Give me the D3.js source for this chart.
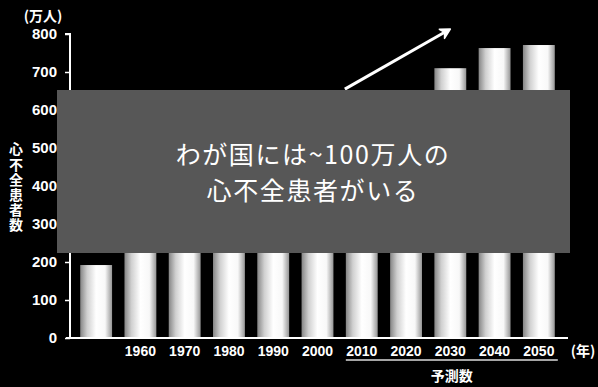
<!DOCTYPE html>
<html><head><meta charset="utf-8">
<script src="https://cdn.jsdelivr.net/npm/d3@7"></script>
<style>
html,body{margin:0;padding:0;background:#000;}
svg{display:block;}
</style></head>
<body>
<svg id="chart" width="598" height="387"></svg>
<script>
// ---- data ----
const categories = ["1950","1960","1970","1980","1990","2000","2010","2020","2030","2040","2050"];
const tickLabels = ["","1960","1970","1980","1990","2000","2010","2020","2030","2040","2050"];
const values = [192, 250, 300, 360, 420, 500, 580, 640, 710, 763, 771];
const yTicks = [0,100,200,300,400,500,600,700,800];
const forecastCats = ["2010","2050"];
const arrowFrom = {cat:"2010", value:655};
const arrowTo = {cat:"2030", value:813};
const yUnit = "(万人)";
const xUnit = "(年)";
const yTitle = "心不全患者数";
const forecastLabel = "予測数";
const boxLines = ["わが国には~100万人の","心不全患者がいる"];

const svg = d3.select("#chart");
svg.append("rect").attr("width",598).attr("height",387).attr("fill","#000");

const x = d3.scaleBand().domain(categories).range([74,561]).paddingInner(0.28).paddingOuter(0.14);
const y = d3.scaleLinear().domain([0,800]).range([338,34]);

const defs = svg.append("defs");
const g = defs.append("linearGradient").attr("id","cyl").attr("x1","0").attr("x2","1").attr("y1","0").attr("y2","0");
[[0,"#858585"],[0.22,"#d0d0d0"],[0.5,"#ffffff"],[0.78,"#f8f8f8"],[1,"#959595"]].forEach(([o,c])=>
  g.append("stop").attr("offset",o).attr("stop-color",c));

// bars
svg.append("g").selectAll("rect").data(categories).join("rect")
  .attr("x",d=>x(d)).attr("width",x.bandwidth())
  .attr("y",(d,i)=>y(values[i])).attr("height",(d,i)=>y(0)-y(values[i]))
  .attr("fill","url(#cyl)");

const latin = "'Liberation Sans', Arial, 'Noto Sans CJK JP', sans-serif";
const cjk = "'Noto Sans CJK JP', sans-serif";

// y axis
const yAxis = d3.axisLeft(y).tickValues(yTicks).tickSize(5).tickPadding(6);
const ya = svg.append("g").attr("transform","translate(70,0)").call(yAxis);
ya.select(".domain").attr("stroke","#fff").attr("stroke-width",2).attr("d","M-5,"+y(800)+"H0V"+y(0));
ya.selectAll(".tick line").attr("stroke","#fff").attr("stroke-width",1.5);
ya.selectAll(".tick text").attr("fill","#fff").attr("font-family",latin).attr("font-weight","bold").attr("font-size",15).attr("dx",-2);

// x axis
const xAxis = d3.axisBottom(x).tickFormat((d,i)=>tickLabels[i]).tickSize(0).tickPadding(8);
const xa = svg.append("g").attr("transform","translate(0,338)").call(xAxis);
xa.select(".domain").remove();
xa.selectAll(".tick text").attr("fill","#fff").attr("font-family",latin).attr("font-weight","bold").attr("font-size",14);
svg.append("line").attr("x1",66).attr("x2",568).attr("y1",y(0)).attr("y2",y(0)).attr("stroke","#fff").attr("stroke-width",2);

// units
svg.append("text").attr("x",43).attr("y",21).attr("text-anchor","middle").attr("fill","#fff")
  .attr("font-family",cjk).attr("font-weight","bold").attr("font-size",14).text(yUnit);
svg.append("text").attr("x",583).attr("y",356).attr("text-anchor","middle").attr("fill","#fff")
  .attr("font-family",cjk).attr("font-weight","bold").attr("font-size",14).text(xUnit);

// y title vertical
svg.append("text").attr("x",16).attr("y",142).attr("fill","#fff").attr("font-family",cjk)
  .attr("font-weight","bold").attr("font-size",14).attr("letter-spacing",1.2)
  .style("writing-mode","vertical-rl").style("text-orientation","upright").text(yTitle);

// forecast line & label
const fx1 = x(forecastCats[0]), fx2 = x(forecastCats[1])+x.bandwidth()+3;
svg.append("line").attr("x1",fx1).attr("x2",fx2).attr("y1",360).attr("y2",360).attr("stroke","#ddd").attr("stroke-width",1.5);
svg.append("text").attr("x",(fx1+fx2)/2).attr("y",381).attr("text-anchor","middle").attr("fill","#fff")
  .attr("font-family",cjk).attr("font-weight","bold").attr("font-size",14).text(forecastLabel);

// arrow
const ax1 = x(arrowFrom.cat)-1, ay1 = y(arrowFrom.value);
const ax2 = x(arrowTo.cat)+x.bandwidth()/2, ay2 = y(arrowTo.value);
const ang = Math.atan2(ay2-ay1, ax2-ax1);
svg.append("line").attr("x1",ax1).attr("y1",ay1).attr("x2",ax2-4*Math.cos(ang)).attr("y2",ay2-4*Math.sin(ang))
  .attr("stroke","#fff").attr("stroke-width",3);
const hl = 11, hw = 0.5;
svg.append("path").attr("d",
  "M"+ax2+","+ay2+
  "L"+(ax2-hl*Math.cos(ang-hw))+","+(ay2-hl*Math.sin(ang-hw))+
  "L"+(ax2-hl*0.6*Math.cos(ang))+","+(ay2-hl*0.6*Math.sin(ang))+
  "L"+(ax2-hl*Math.cos(ang+hw))+","+(ay2-hl*Math.sin(ang+hw))+"Z")
  .attr("fill","#fff").attr("stroke","#fff").attr("stroke-width",1.5).attr("stroke-linejoin","round");

// overlay box
svg.append("rect").attr("x",57).attr("y",90).attr("width",513).attr("height",163).attr("fill","#575757");
boxLines.forEach((l,i)=>svg.append("text").attr("x",313).attr("y",164+i*36)
  .attr("text-anchor","middle").attr("fill","#fff").attr("font-family",cjk)
  .attr("font-size",25).attr("letter-spacing",1.6).text(l));
</script>
</body></html>
